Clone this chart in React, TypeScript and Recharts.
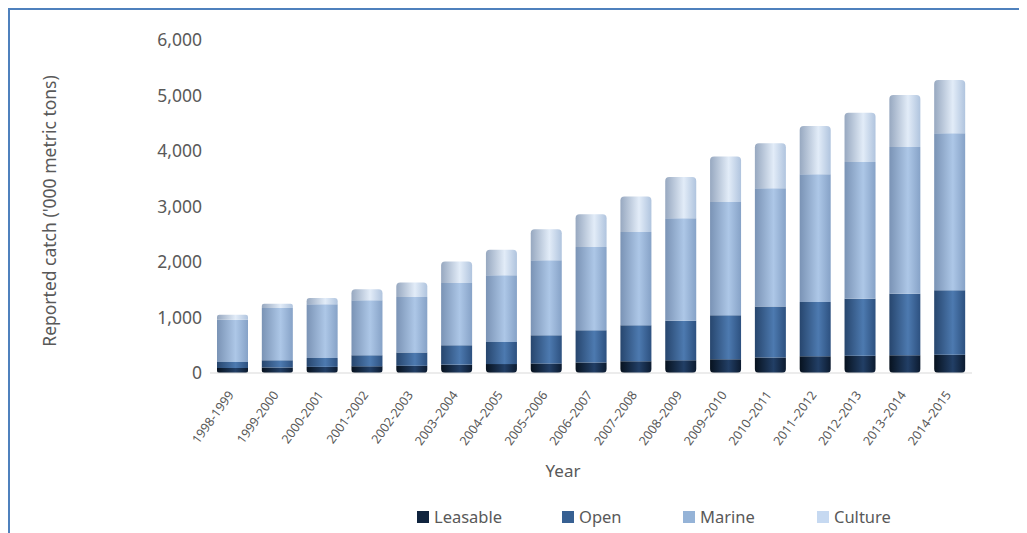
import { Bar, BarChart, Label, XAxis, YAxis } from "recharts";

const years = [
  "1998-1999", "1999-2000", "2000-2001", "2001-2002", "2002-2003",
  "2003–2004", "2004–2005", "2005–2006", "2006–2007", "2007–2008",
  "2008–2009", "2009–2010", "2010–2011", "2011–2012", "2012–2013",
  "2013–2014", "2014–2015",
];
const leasable = [90, 100, 110, 120, 130, 150, 160, 170, 190, 210, 230, 250, 280, 300, 310, 320, 330];
const open = [110, 130, 160, 200, 240, 350, 400, 510, 580, 650, 710, 790, 920, 980, 1030, 1110, 1160];
const marine = [760, 940, 970, 990, 1000, 1120, 1200, 1350, 1500, 1680, 1850, 2040, 2130, 2300, 2460, 2640, 2830];
const culture = [90, 80, 110, 200, 260, 390, 460, 560, 590, 640, 740, 820, 810, 870, 890, 940, 960];
const yTicks = [0, 1000, 2000, 3000, 4000, 5000, 6000];

const seriesNames = ["Leasable", "Open", "Marine", "Culture"];
const seriesKeys = ["leasable", "open", "marine", "culture"];
const swatch = ["#10243E", "#376092", "#95B3D7", "#C6D9F1"];
// cylinder shading: left edge, highlight, right edge
const shades = [
  ["#07121f", "#223f66", "#0c1b30"],
  ["#27466e", "#4d7ab0", "#2d5180"],
  ["#7a93b5", "#adc7e7", "#86a2c7"],
  ["#97a8c0", "#e2ecf8", "#b0c4de"],
];

const data = years.map((year, i) => ({
  year,
  leasable: leasable[i],
  open: open[i],
  marine: marine[i],
  culture: culture[i],
}));

const font = "'Noto Sans', sans-serif";
const grey = "#595959";

function YearTick({ x, y, payload }: any) {
  return (
    <text
      transform={`translate(${x + 2},${y + 14}) rotate(-54)`}
      textAnchor="end"
      fontSize={12.5}
      fill={grey}
      fontFamily={font}
    >
      {payload.value}
    </text>
  );
}

export default function App() {
  return (
    <div
      style={{
        position: "relative",
        width: 1019,
        height: 525,
        borderTop: "2px solid #4F81BD",
        borderLeft: "2px solid #4F81BD",
        overflow: "hidden",
        fontFamily: font,
      }}
    >
      <BarChart
        width={1017}
        height={523}
        data={data}
        margin={{ top: 30, right: 55, left: 100, bottom: 50 }}
        barSize={31}
      >
        <defs>
          {shades.map((s, i) => (
            <linearGradient key={i} id={`cyl${i}`} x1="0" y1="0" x2="1" y2="0">
              <stop offset="0%" stopColor={s[0]} />
              <stop offset="60%" stopColor={s[1]} />
              <stop offset="100%" stopColor={s[2]} />
            </linearGradient>
          ))}
        </defs>
        <XAxis
          dataKey="year"
          interval={0}
          height={110}
          tickLine={false}
          stroke="#d9d9d9"
          tick={<YearTick />}
        >
          <Label
            content={() => (
              <text x={553} y={467} textAnchor="middle" fontSize={17} fill={grey} fontFamily={font}>
                Year
              </text>
            )}
          />
        </XAxis>
        <YAxis
          width={100}
          domain={[0, 6000]}
          ticks={yTicks}
          axisLine={false}
          tickLine={false}
          tickFormatter={(v) => v.toLocaleString("en-US")}
          tick={{ fill: grey, fontSize: 17.5, fontFamily: font }}
        >
          <Label
            content={() => (
              <text
                transform="translate(39,201) rotate(-90)"
                textAnchor="middle"
                dominantBaseline="central"
                fontSize={17.5}
                fill={grey}
                fontFamily={font}
              >
                Reported catch ('000 metric tons)
              </text>
            )}
          />
        </YAxis>
        {seriesKeys.map((k, i) => (
          <Bar
            key={k}
            dataKey={k}
            name={seriesNames[i]}
            stackId="a"
            fill={`url(#cyl${i})`}
            radius={i === 3 ? [4, 4, 0, 0] : i === 0 ? [0, 0, 4, 4] : 0}
            isAnimationActive={false}
          />
        ))}
      </BarChart>
      <div style={{ position: "absolute", top: 495, left: 0, width: 1017, height: 24 }}>
        {seriesNames.map((n, i) => (
          <div
            key={n}
            style={{
              position: "absolute",
              left: [407, 552, 673, 807][i],
              top: 0,
              display: "flex",
              alignItems: "center",
              fontSize: 16.5,
              color: grey,
              whiteSpace: "nowrap",
            }}
          >
            <span
              style={{
                display: "inline-block",
                width: 12,
                height: 12,
                background: swatch[i],
                marginRight: 5,
              }}
            />
            {n}
          </div>
        ))}
      </div>
    </div>
  );
}
